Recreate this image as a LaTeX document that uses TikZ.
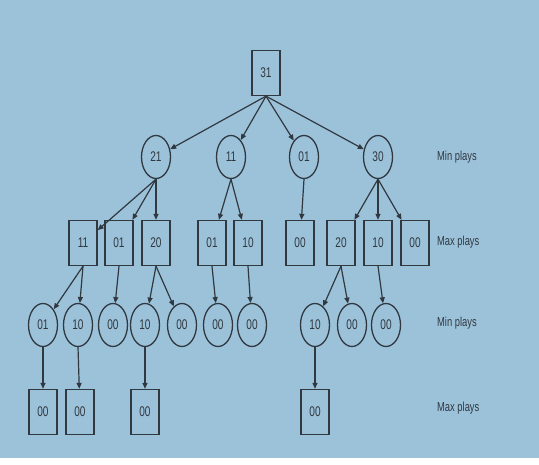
\documentclass[tikz,border=0pt]{standalone}
\usepackage{fontspec}
\newfontfamily\cond[FakeStretch=0.72]{Liberation Sans}
\usetikzlibrary{arrows.meta,shapes.geometric}
\definecolor{bg}{RGB}{156,194,218}
\definecolor{ink}{RGB}{48,56,64}
\tikzset{
  maxbox/.style={draw=ink,line width=1.3pt,rectangle,minimum width=28pt,minimum height=45pt,inner sep=0pt,font=\cond\fontsize{14}{14}\selectfont,text=ink},
  minnode/.style={draw=ink,line width=1.3pt,ellipse,minimum width=29pt,minimum height=43pt,inner sep=0pt,font=\cond\fontsize{14}{14}\selectfont,text=ink},
  lbl/.style={font=\cond\fontsize{13}{13}\selectfont,text=ink,anchor=west,inner sep=0pt},
  arr/.style={draw=ink,line width=1.2pt,-{Triangle[length=6pt,width=5pt]}}
}
\begin{document}
\begin{tikzpicture}[x=1pt,y=-1pt]
\fill[white] (0,0) rectangle (539,465);
\fill[bg] (0,0) rectangle (539,458);
\useasboundingbox (0,0) rectangle (539,465);
% root
\node[maxbox] (r) at (266,73) {31};
% level 1
\node[minnode] (a) at (156,157) {21};
\node[minnode] (b) at (231,157) {11};
\node[minnode] (c) at (304,157) {01};
\node[minnode] (d) at (378,157) {30};
% level 2
\node[maxbox] (a1) at (83,243) {11};
\node[maxbox] (a2) at (119,243) {01};
\node[maxbox] (a3) at (156,243) {20};
\node[maxbox] (b1) at (212,243) {01};
\node[maxbox] (b2) at (248,243) {10};
\node[maxbox] (c1) at (300,243) {00};
\node[maxbox] (d1) at (341,243) {20};
\node[maxbox] (d2) at (378,243) {10};
\node[maxbox] (d3) at (415,243) {00};
% level 3
\node[minnode] (a11) at (43,325) {01};
\node[minnode] (a12) at (78,325) {10};
\node[minnode] (a21) at (113,325) {00};
\node[minnode] (a31) at (145,325) {10};
\node[minnode] (a32) at (182,325) {00};
\node[minnode] (b11) at (218,325) {00};
\node[minnode] (b21) at (252,325) {00};
\node[minnode] (d11) at (315,325) {10};
\node[minnode] (d12) at (352,325) {00};
\node[minnode] (d21) at (386,325) {00};
% level 4
\node[maxbox] (a111) at (43,412) {00};
\node[maxbox] (a121) at (80,412) {00};
\node[maxbox] (a311) at (145,412) {00};
\node[maxbox] (d111) at (315,412) {00};
% labels
\node[lbl] (l1) at (437,157) {Min plays};
\node[lbl] (l2) at (437,242) {Max plays};
\node[lbl] (l3) at (437,323) {Min plays};
\node[lbl] (l4) at (437,408) {Max plays};
% edges
\foreach \p/\c in {r/a,r/b,r/c,r/d,a/a1,a/a2,a/a3,b/b1,b/b2,c/c1,d/d1,d/d2,d/d3,
  a1/a11,a1/a12,a2/a21,a3/a31,a3/a32,b1/b11,b2/b21,d1/d11,d1/d12,d2/d21,
  a11/a111,a12/a121,a31/a311,d11/d111}
  \draw[arr] (\p.south) -- (\c);
\end{tikzpicture}
\end{document}
